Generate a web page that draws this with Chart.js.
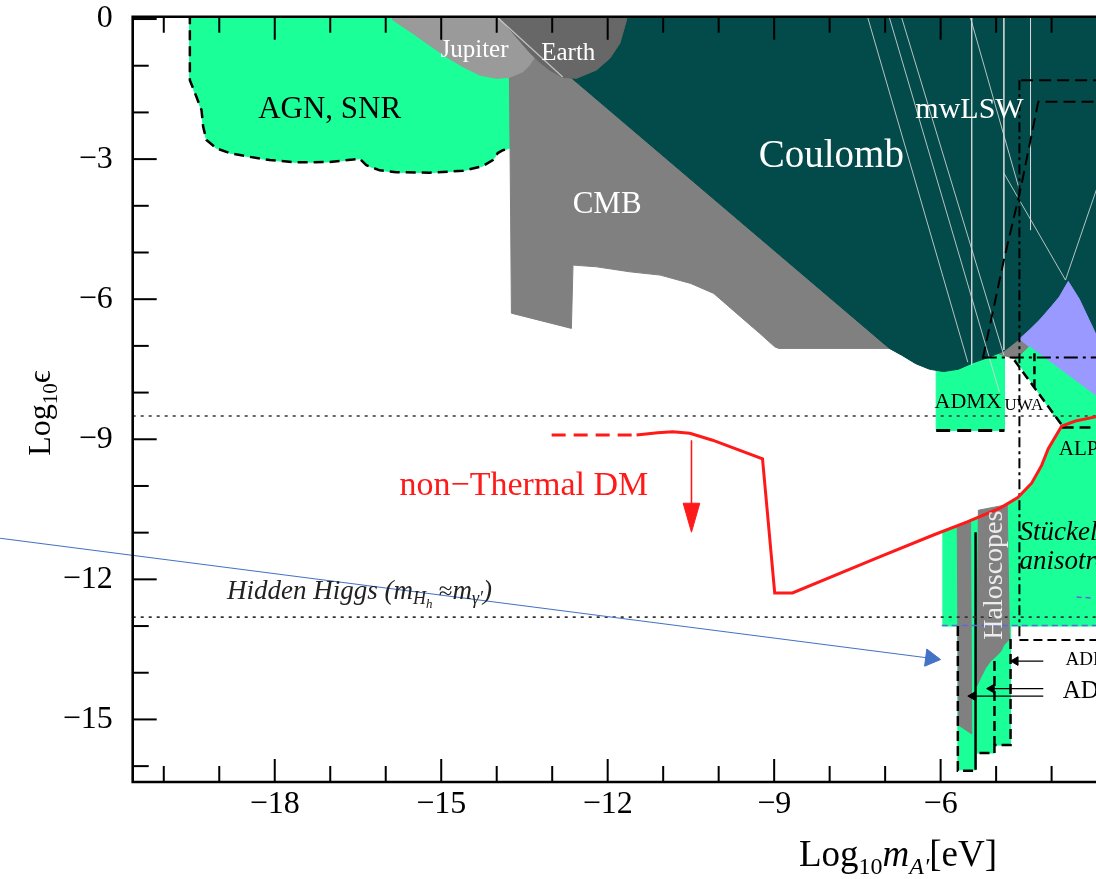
<!DOCTYPE html>
<html>
<head>
<meta charset="utf-8">
<script src="https://cdn.jsdelivr.net/npm/chart.js@4.4.1/dist/chart.umd.min.js"></script>
<style>
html,body{margin:0;padding:0;background:#fff;overflow:hidden;}
canvas{display:block;}
</style>
</head>
<body>
<canvas id="c" width="1096" height="879"></canvas>
<script>
/* ---------------- axes ---------------- */
const xTickValues = [-18, -15, -12, -9, -6];
const yTickValues = [0, -3, -6, -9, -12, -15];
const xLimits = [-20.56, -3.2];
const yLimits = [-16.34, 0.05];

/* ---------------- regions: [log10 m (eV), log10 eps] ---------------- */
const agnSnrEdge = [[-19.53,0.1],[-19.53,-1.31],[-19.41,-1.67],[-19.32,-1.95],[-19.29,-2.31],[-19.23,-2.59],[-19.05,-2.77],[-18.81,-2.87],[-18.51,-2.94],[-18.09,-3.02],[-17.61,-3.07],[-17.01,-3.06],[-16.59,-3.01],[-16.47,-2.99],[-16.35,-3.13],[-16.11,-3.24],[-15.81,-3.28],[-15.21,-3.29],[-14.61,-3.25],[-14.25,-3.15],[-14.07,-3.02],[-13.98,-2.87],[-13.89,-2.81],[-13.77,-2.77]];
const agnSnrRegion = agnSnrEdge.concat([[-13.77,0.1],[-19.53,0.1]]);

const cmbRegion = [[-14.0,0.1],[-13.77,0.1],[-13.77,-1.3],[-13.735,-6.30],[-12.654,-6.625],[-12.625,-5.27],[-12.204,-5.306],[-11.604,-5.413],[-11.054,-5.484],[-10.505,-5.662],[-10.09,-5.876],[-9.676,-6.304],[-9.261,-6.732],[-8.991,-7.019],[-8.919,-7.054],[-6.923,-7.054],[-14.0,0.1]];

const jupiterRegion = [[-15.87,0.1],[-15.87,-0.02],[-15.51,-0.31],[-15.21,-0.56],[-14.91,-0.81],[-14.61,-1.02],[-14.31,-1.20],[-14.01,-1.27],[-13.77,-1.25],[-13.53,-1.13],[-13.41,-0.99],[-13.25,-0.7],[-13.15,0.1],[-15.87,0.1]];

const earthRegion = [[-14.0,0.1],[-13.41,-0.71],[-13.23,-0.92],[-13.05,-1.09],[-12.81,-1.25],[-12.56,-1.27],[-12.20,-1.09],[-11.96,-0.84],[-11.78,-0.52],[-11.66,-0.02],[-11.66,0.1],[-14.0,0.1]];
const earthDiagonal = [[-14.0,0.05],[-12.81,-1.24]];

const coulombRegion = [[-14.0,0.1],[-6.923,-7.054],[-6.7,-7.2],[-6.45,-7.38],[-6.2,-7.5],[-5.95,-7.55],[-5.68,-7.5],[-5.41,-7.36],[-5.12,-7.24],[-4.86,-7.11],[-4.58,-6.85],[-4.4,-6.66],[-4.22,-6.45],[-4.0,-6.15],[-3.86,-5.95],[-3.7,-5.62],[-3.5,-6.0],[-3.21,-6.73],[-2.9,-7.45],[-2.9,0.1],[-14.0,0.1]];

const purpleRegion = [[-4.58,-6.85],[-4.4,-6.66],[-4.22,-6.45],[-4.0,-6.15],[-3.86,-5.95],[-3.7,-5.62],[-3.5,-6.0],[-3.21,-6.73],[-2.9,-7.45],[-2.9,-8.34],[-4.40,-7.02],[-4.58,-6.85]];

const grayWedge = [[-5.0,-7.15],[-4.55,-6.75],[-4.3,-6.9],[-4.4,-7.02],[-4.61,-7.30],[-5.0,-7.15]];

const admxRegion = [[-6.08,-7.0],[-4.85,-7.0],[-4.85,-8.81],[-6.08,-8.81],[-6.08,-7.0]];
const admxEdge = [[-6.08,-8.81],[-4.85,-8.81]];

const stueckelbergRegion = [[-5.96,-13.0],[-5.96,-10.97],[-5.52,-10.77],[-4.92,-10.47],[-4.61,-10.25],[-4.36,-9.94],[-4.18,-9.56],[-4.06,-9.2],[-3.82,-8.72],[-4.64,-7.3],[-4.40,-7.02],[-2.9,-8.34],[-2.9,-13.0],[-5.96,-13.0]];

const haloGreen = [[-5.69,-13.0],[-4.74,-13.0],[-4.74,-15.55],[-5.03,-15.55],[-5.03,-15.72],[-5.37,-15.72],[-5.37,-16.08],[-5.69,-16.08],[-5.69,-13.0]];
const haloGrayA = [[-5.70,-10.85],[-5.46,-10.78],[-5.44,-15.31],[-5.68,-15.12],[-5.70,-10.85]];
const haloGrayB = [[-5.32,-10.52],[-4.80,-10.40],[-4.76,-13.28],[-4.86,-13.41],[-4.92,-13.55],[-5.01,-13.66],[-5.10,-13.75],[-5.19,-13.9],[-5.28,-14.11],[-5.35,-14.29],[-5.32,-10.52]];
const haloEdgeSolid = [[-5.37,-10.99],[-5.37,-16.08]];
const haloEdgeDashLeft = [[-5.69,-13.0],[-5.69,-16.1],[-5.37,-16.1]];
const haloEdgeDashRight = [[-4.74,-13.28],[-4.74,-15.55],[-5.03,-15.55],[-5.03,-15.72],[-5.37,-15.72]];
const haloEdgeDashMid = [[-5.03,-13.75],[-5.03,-15.55]];

/* dashed projection / experiment limits */
const dashVertical = [[-4.58,-1.31],[-4.58,-13.30]];
const dashBoxBottom = [[-4.58,-13.30],[-2.9,-13.30]];
const dashTop = [[-4.55,-1.31],[-2.9,-1.31]];
const dashSlant = [[-5.24,-7.27],[-4.86,-5.16],[-4.55,-3.59],[-4.24,-1.77],[-2.9,-1.77]];
const dashMid = [[-5.24,-7.25],[-2.9,-7.25]];
const dashSmall = [[-4.31,-7.16],[-4.31,-7.88]];
const dashUwa = [[-4.67,-7.31],[-3.82,-8.69]];
const dashAlp = [[-3.82,-8.75],[-3.3,-8.75]];

/* thin light-sweep lines */
const lswLines = [
  [[-7.33,0.1],[-5.51,-7.35]],
  [[-6.94,0.1],[-4.94,-7.99]],
  [[-6.72,0.1],[-4.86,-7.20]],
  [[-5.44,0.1],[-5.44,-7.41]],
  [[-4.86,0.1],[-4.86,-7.09]],
  [[-5.48,0.1],[-4.58,-3.66]],
  [[-4.86,-3.30],[-3.75,-5.59]],
  [[-4.38,0.1],[-4.38,-4.52]],
  [[-3.75,-5.59],[-2.95,-2.81]]
];

/* reference levels */
const dottedLevels = [-8.5, -12.81];
const blueEdge = [[-5.98,-12.99],[-2.9,-12.99]];
const blueTick = [[-3.55,-12.38],[-3.26,-12.40]];

/* non-thermal DM curve */
const redDashed = [[-13.01,-8.91],[-11.48,-8.91]];
const redCurve = [[-11.48,-8.91],[-11.1,-8.86],[-10.83,-8.84],[-10.52,-8.87],[-10.11,-9.02],[-9.21,-9.42],[-8.99,-12.29],[-8.67,-12.29],[-7.10,-11.52],[-6.13,-11.05],[-5.52,-10.77],[-4.92,-10.47],[-4.61,-10.25],[-4.36,-9.94],[-4.18,-9.56],[-4.06,-9.2],[-3.82,-8.72],[-3.57,-8.61],[-3.21,-8.52],[-2.9,-8.46]];
const redArrowShaft = [[-10.49,-9.02],[-10.49,-10.45]];
const redArrowHead = [[-10.64,-10.37],[-10.34,-10.37],[-10.49,-10.99],[-10.64,-10.37]];

/* ADMX arrows */
const admxArrows = [
  [[-4.15,-13.75],[-4.65,-13.75]],
  [[-4.15,-14.34],[-5.08,-14.34]],
  [[-4.15,-14.50],[-5.42,-14.50]]
];

/* annotation arrow */
const annotationArrow = [[-22.95,-11.12],[-6.18,-13.69]];

/* ---------------- text ---------------- */
const textMarks = [
  {t:'AGN, SNR', x:-17.01, y:-1.95, size:31, color:'#000'},
  {t:'Jupiter', x:-14.40, y:-0.67, size:25, color:'#fff'},
  {t:'Earth', x:-12.71, y:-0.74, size:25, color:'#fff'},
  {t:'CMB', x:-12.01, y:-3.97, size:31, color:'#fff'},
  {t:'Coulomb', x:-7.97, y:-2.95, size:39, color:'#fff'},
  {t:'mwLSW', x:-5.48, y:-1.95, size:30, color:'#fff'},
  {t:'ADMX', x:-6.11, y:-8.20, size:22, color:'#000', align:'left'},
  {t:'UWA', x:-4.85, y:-8.27, size:17, color:'#000', align:'left'},
  {t:'ALPS', x:-3.87, y:-9.21, size:21, color:'#000', align:'left'},
  {t:'Stückelberg', x:-4.58, y:-11.01, size:27, italic:true, color:'#000', align:'left'},
  {t:'anisotropy', x:-4.58, y:-11.63, size:27, italic:true, color:'#000', align:'left'},
  {t:'non\u2212Thermal DM', x:-13.51, y:-10.01, size:34, color:'#ff1a1a'},
  {t:'ADMX-HF', x:-3.75, y:-13.73, size:19, color:'#000', align:'left'},
  {t:'ADMX', x:-3.80, y:-14.39, size:25, color:'#000', align:'left'},
  {t:'Haloscopes', x:-5.03, y:-11.91, size:28, color:'#ececec', rotate:true}
];
const higgsLabelPos = {x:-18.86, y:-12.43};

/* ---------------- datasets ---------------- */
const P = a => a.map(p => ({x:p[0], y:p[1]}));
const ds = [];
function area(data, color) {
  ds.push({data:P(data), fill:'shape', backgroundColor:color, borderColor:color, borderWidth:1, pointRadius:0, tension:0});
}
function path(data, color, width, dash, extra) {
  ds.push(Object.assign({data:P(data), fill:false, borderColor:color, borderWidth:width, borderDash:dash||[], pointRadius:0, tension:0, borderCapStyle:'butt'}, extra||{}));
}
const GREEN = '#1aff98';
area(agnSnrRegion, GREEN);
area(cmbRegion, '#808080');
area(admxRegion, GREEN);
area(grayWedge, '#808080');
area(coulombRegion, '#024b4a');
area(jupiterRegion, '#9a9a9a');
area(earthRegion, '#676767');
area(purpleRegion, '#9999ff');
area(stueckelbergRegion, GREEN);
area(haloGreen, GREEN);
area(haloGrayA, '#808080');
area(haloGrayB, '#808080');
lswLines.forEach(l => path(l, 'rgba(215,215,215,0.85)', 1));
path(earthDiagonal, 'rgba(205,205,205,0.9)', 1.2);
path(agnSnrEdge, '#000', 2.5, [10,6]);
path(admxEdge, '#000', 3, [14,7]);
path(dashVertical, '#000', 2, [10,4,3,4]);
path(dashBoxBottom, '#000', 2, [9,5]);
path(dashTop, '#000', 2, [12,6]);
path(dashSlant, '#000', 2, [12,6]);
path(dashMid, '#000', 2, [14,5,3,5]);
path(dashSmall, '#000', 2.5, [8,5]);
path(dashUwa, '#000', 2.5, [9,5]);
path(dashAlp, '#000', 2.5, [12,6]);
path(haloEdgeSolid, '#000', 2.5);
path(haloEdgeDashLeft, '#000', 2.5, [10,5]);
path(haloEdgeDashRight, '#000', 2.5, [10,5]);
path(haloEdgeDashMid, '#000', 2.5, [10,5]);
path(blueEdge, '#5a6ad6', 1.5, [6,4]);
path(blueTick, '#5a6ad6', 1.5, [5,4]);
dottedLevels.forEach(v => path([[xLimits[0], v],[xLimits[1], v]], '#333', 1.6, [3,5]));
path(redDashed, '#ff1a1a', 3, [14,8]);
path(redCurve, '#ff1a1a', 3);
path(redArrowShaft, '#ff1a1a', 1.6);
area(redArrowHead, '#ff1a1a');
admxArrows.forEach(a => path(a, '#000', 1.2, [], {pointRadius:[0,5], pointStyle:'triangle', pointRotation:270, pointBackgroundColor:'#000', pointBorderColor:'#000', pointBorderWidth:1}));
path(annotationArrow, '#4472c4', 1.2, [], {clip:false, pointRadius:[0,10], pointStyle:'triangle', pointRotation:97.4, pointBackgroundColor:'#4472c4', pointBorderColor:'#4472c4', pointBorderWidth:1});
ds.forEach((d, i) => { d.order = ds.length - i; });

/* ---------------- drawing helpers ---------------- */
const SERIF = '"Liberation Serif", "Times New Roman", serif';
function fontOf(p) { return `${p.it ? 'italic ' : ''}${p.s}px ${SERIF}`; }
function drawRuns(ctx, parts, x0, y0, align) {
  let w = 0;
  parts.forEach(p => { ctx.font = fontOf(p); p.w = ctx.measureText(p.t).width; w += p.w; });
  let x = align === 'center' ? x0 - w / 2 : x0;
  parts.forEach(p => { ctx.font = fontOf(p); ctx.fillText(p.t, x, y0 + (p.dy || 0)); x += p.w; });
}

const overlay = {
  id: 'overlay',
  afterDatasetsDraw(chart) {
    const ctx = chart.ctx, sx = chart.scales.x, sy = chart.scales.y;
    ctx.save();
    for (const m of textMarks) {
      const px = sx.getPixelForValue(m.x), py = sy.getPixelForValue(m.y);
      ctx.font = `${m.italic ? 'italic ' : ''}${m.size}px ${SERIF}`;
      ctx.fillStyle = m.color;
      ctx.textBaseline = 'middle';
      ctx.textAlign = m.align || 'center';
      if (m.rotate) {
        ctx.save(); ctx.translate(px, py); ctx.rotate(-Math.PI / 2); ctx.fillText(m.t, 0, 0); ctx.restore();
      } else ctx.fillText(m.t, px, py);
    }
    ctx.fillStyle = '#222';
    ctx.textAlign = 'left';
    ctx.textBaseline = 'alphabetic';
    drawRuns(ctx, [
      {t:'Hidden Higgs (', s:27, it:true},
      {t:'m', s:27, it:true},
      {t:'H', s:18, it:true, dy:5},
      {t:'h', s:13, it:true, dy:9},
      {t:' \u2248', s:25},
      {t:'m', s:27, it:true},
      {t:'\u03b3\u2032', s:18, it:true, dy:5},
      {t:')', s:27, it:true}
    ], sx.getPixelForValue(higgsLabelPos.x), sy.getPixelForValue(higgsLabelPos.y), 'left');
    ctx.restore();
  },
  afterDraw(chart) {
    const ctx = chart.ctx, a = chart.chartArea, sx = chart.scales.x, sy = chart.scales.y;
    ctx.save();
    ctx.strokeStyle = '#000';
    ctx.lineWidth = 2;
    for (let v = Math.ceil(xLimits[0]); v <= Math.floor(xLimits[1]); v++) {
      const px = sx.getPixelForValue(v);
      const len = (v % 3 === 0) ? 23 : 16;
      ctx.beginPath();
      ctx.moveTo(px, a.bottom); ctx.lineTo(px, a.bottom - len);
      ctx.moveTo(px, a.top); ctx.lineTo(px, a.top + len);
      ctx.stroke();
    }
    for (let v = Math.ceil(yLimits[0]); v <= Math.floor(yLimits[1]); v++) {
      const py = sy.getPixelForValue(v);
      const len = (v % 3 === 0) ? 24 : 16;
      ctx.beginPath();
      ctx.moveTo(a.left, py); ctx.lineTo(a.left + len, py);
      ctx.stroke();
    }
    ctx.lineWidth = 2.6;
    ctx.beginPath();
    ctx.moveTo(a.right + 5, a.top); ctx.lineTo(a.left, a.top); ctx.lineTo(a.left, a.bottom); ctx.lineTo(a.right + 5, a.bottom);
    ctx.stroke();
    // axis titles
    ctx.fillStyle = '#000';
    ctx.textBaseline = 'alphabetic';
    drawRuns(ctx, [
      {t:'Log', s:37},
      {t:'10', s:24, dy:8},
      {t:'m', s:37, it:true},
      {t:'A\u2032', s:24, it:true, dy:8},
      {t:'[eV]', s:37}
    ], 898, 866, 'center');
    ctx.save();
    ctx.translate(50, 413);
    ctx.rotate(-Math.PI / 2);
    drawRuns(ctx, [
      {t:'Log', s:32},
      {t:'10', s:21, dy:7},
      {t:'\u03f5', s:32}
    ], 0, 0, 'center');
    ctx.restore();
    ctx.restore();
  }
};

const fmt = v => (v === 0 ? '0' : '\u2212' + Math.abs(v));

new Chart(document.getElementById('c'), {
  type: 'line',
  data: { datasets: ds },
  options: {
    responsive: false,
    animation: false,
    devicePixelRatio: 1,
    events: [],
    layout: { autoPadding: false, padding: { top: 16.7, left: 0, right: 0, bottom: 0 } },
    plugins: { legend: { display: false }, tooltip: { enabled: false } },
    scales: {
      x: {
        type: 'linear', min: xLimits[0], max: xLimits[1],
        grid: { display: false, drawTicks: false }, border: { display: false },
        ticks: {
          stepSize: 3, autoSkip: false, includeBounds: false, maxRotation: 0,
          font: { family: SERIF, size: 32 }, color: '#000', padding: 3,
          callback: v => (xTickValues.includes(v) ? fmt(v) : '')
        },
        afterFit(s) { s.height = 97; s.paddingLeft = 0; s.paddingRight = 0; }
      },
      y: {
        type: 'linear', min: yLimits[0], max: yLimits[1],
        grid: { display: false, drawTicks: false }, border: { display: false },
        ticks: {
          stepSize: 3, autoSkip: false, includeBounds: false,
          font: { family: SERIF, size: 32 }, color: '#000', padding: 20,
          callback: v => (yTickValues.includes(v) ? fmt(v) : '')
        },
        afterFit(s) { s.width = 132.7; s.paddingTop = 0; s.paddingBottom = 0; }
      }
    }
  },
  plugins: [overlay]
});
</script>
</body>
</html>
